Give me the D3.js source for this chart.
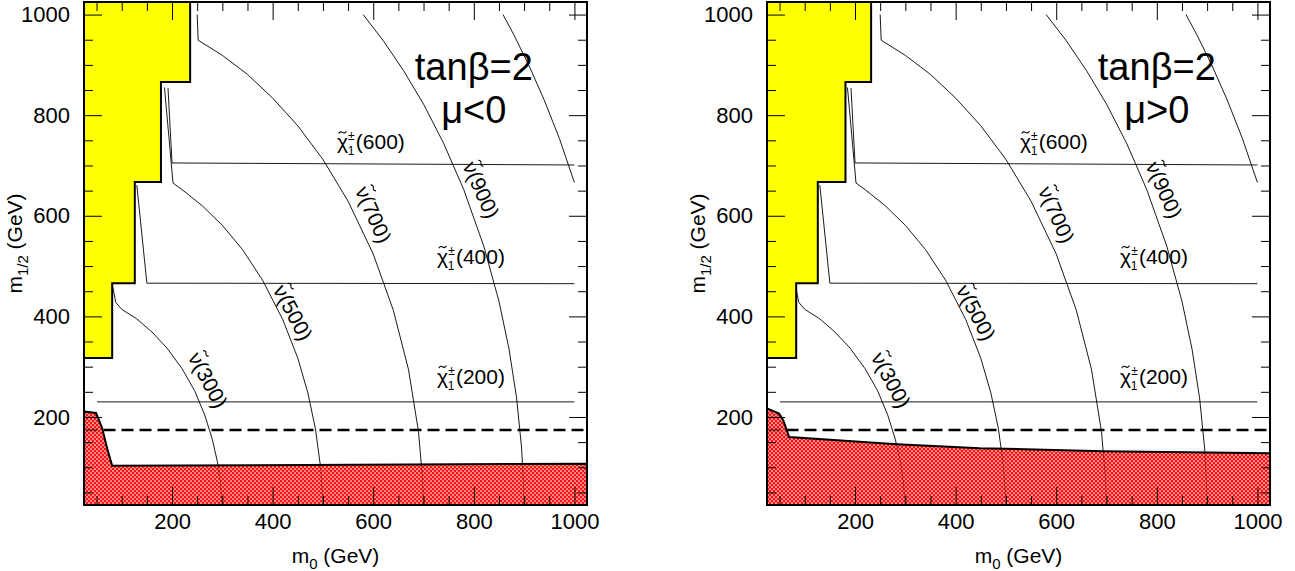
<!DOCTYPE html>
<html><head><meta charset="utf-8">
<script src="https://cdn.jsdelivr.net/npm/d3@7/dist/d3.min.js"></script>
<style>
body{margin:0;background:#fff}
text{font-family:"Liberation Sans",Arial,Helvetica,sans-serif;fill:#000}
</style>
</head><body>
<svg id="chart" width="1295" height="571"></svg>
<script>
// ---------------- data (m0, m1/2 in GeV) ----------------
const axisDomain = [25, 1025];
const majorTicks = [200, 400, 600, 800, 1000];
const minorTicks = [50, 100, 150, 250, 300, 350, 450, 500, 550, 650, 700, 750, 850, 900, 950];
const panelTitles = ["μ<0", "μ>0"];
const tanBetaText = "tanβ=2";

// excluded (yellow) regions
const yellowNeg = [[25,1025],[236,1025],[236,866],[178,866],[178,667],[126,667],[126,466],[81,466],[81,317],[25,317]];
const yellowPos = [[25,1025],[232,1025],[232,866],[181,866],[181,667],[126,667],[126,466],[83,466],[83,317],[25,317]];

// LEP excluded (red hatched) regions
const lepNeg = [[25,211],[49,208],[61,178],[71,138],[81,103],[1025,107],[1025,25],[25,25]];
const lepPos = [[25,217],[49,207],[57,194],[69,160],[283,146],[448,138],[693,132],[1025,128],[1025,25],[25,25]];

// dashed line level
const dashedLevel = 174;

// sneutrino mass contours
const snu300  = [[82,460],[88,428],[100,414],[130,395],[160,369],[190,337],[220,296],[245,252],[265,204],[280,156],[290,112],[296,71],[299.5,25]];
const snu500  = [[185,855],[202,665],[220,652],[260,620],[300,581],[340,533],[380,472],[420,394],[450,317],[470,248],[485,177],[495,103],[499,46],[499.7,25]];
const snu700  = [[250,1000],[252,949],[300,919],[350,881],[400,834],[450,779],[500,712],[550,629],[600,524],[640,412],[670,295],[690,171],[698,77],[699.8,25]];
const snu900  = [[580,1000],[620,948],[660,889],[700,822],[740,744],[780,652],[820,539],[850,430],[870,335],[885,238],[895,138],[899,62],[899.8,25]];
const snu1100 = [[858,1000],[880,959],[910,898],[940,830],[970,754],[1000,666]];
const sneutrinoCurves = [snu300, snu500, snu700, snu900, snu1100];

// chargino mass contours
const chi200 = [[51,230],[1000,230]];
const chi400 = [[130,661],[150,466],[1000,465]];
const chi600 = [[192,854],[200,705],[1000,701]];
const charginoCurves = [chi200, chi400, chi600];

// contour labels
const charginoLabels = [{mass:"600", m0:528, m12:732},{mass:"400", m0:727, m12:504},{mass:"200", m0:727, m12:266}];
const sneutrinoLabels = [{mass:"300", m0:271, m12:273},{mass:"500", m0:440, m12:407},{mass:"700", m0:600, m12:602},{mass:"900", m0:814, m12:651}];
const sneutrinoLabelAngles = [62, 62, 66, 66];
const tanBetaPos = {m0:800, m12:870};
const muPos = {m0:800, m12:784};

// ---------------- drawing ----------------
const svg = d3.select("#chart");
const W = 503, H = 503;
const panelOrigins = [[84,2],[767,2]];
const yellowData = [yellowNeg, yellowPos];
const lepData = [lepNeg, lepPos];
const tildePath = "M-3.8,1.2 Q-2.2,-1.6 0,0 T3.8,-1.2";

const defs = svg.append("defs");
const pat = defs.append("pattern").attr("id","hatch").attr("patternUnits","userSpaceOnUse")
  .attr("width",4).attr("height",4);
pat.append("rect").attr("width",4).attr("height",4).attr("fill","#ff1010");
pat.append("circle").attr("cx",1).attr("cy",1).attr("r",0.85).attr("fill","#fff");
pat.append("circle").attr("cx",3).attr("cy",3).attr("r",0.85).attr("fill","#fff");

panelOrigins.forEach((o, i) => {
  const g = svg.append("g").attr("transform",`translate(${o[0]},${o[1]})`);
  const x = d3.scaleLinear().domain(axisDomain).range([0, W]);
  const y = d3.scaleLinear().domain(axisDomain).range([H, 0]);
  const line = d3.line().x(d => x(d[0])).y(d => y(d[1]));

  const clipId = "clip"+i;
  defs.append("clipPath").attr("id",clipId).append("rect").attr("width",W).attr("height",H);
  const plot = g.append("g").attr("clip-path",`url(#${clipId})`);

  plot.append("rect").attr("width",W).attr("height",H).attr("fill","#fff");

  // LEP hatched region (fill)
  plot.append("path").attr("d",line(lepData[i])+"Z").attr("fill","url(#hatch)").attr("stroke","none");

  // contours
  sneutrinoCurves.forEach(c => plot.append("path").attr("d",line(c)).attr("fill","none")
    .attr("stroke","#000").attr("stroke-width",0.9));
  charginoCurves.forEach(c => plot.append("path").attr("d",line(c)).attr("fill","none")
    .attr("stroke","#000").attr("stroke-width",0.9));

  // dashed line
  plot.append("path").attr("d",line([[axisDomain[0]+3,dashedLevel],[axisDomain[1],dashedLevel]]))
    .attr("stroke","#000").attr("stroke-width",2.6).attr("stroke-dasharray","12,6").attr("fill","none");

  // LEP hatched region again over the contours (lines show through the holes), then outline
  plot.append("path").attr("d",line(lepData[i])+"Z").attr("fill","url(#hatch)").attr("fill-opacity",0.55)
    .attr("stroke","#000").attr("stroke-width",2);

  // yellow region
  plot.append("path").attr("d",line(yellowData[i])+"Z").attr("fill","#ffff00")
    .attr("stroke","#000").attr("stroke-width",2);

  // axes ticks
  const ax = (axisGen, vals, size, tr, pad) => {
    const a = g.append("g").attr("transform",tr)
      .call(axisGen.tickValues(vals).tickSize(-size).tickPadding(pad)
        .tickFormat(pad ? d3.format("d") : ""));
    a.select(".domain").remove();
    a.selectAll("line").attr("stroke","#000").attr("stroke-width",1);
    a.selectAll("text").style("font-size","22px").attr("font-family",null);
    return a;
  };
  ax(d3.axisBottom(x), majorTicks, 18, `translate(0,${H})`, 8);
  ax(d3.axisBottom(x), minorTicks, 9, `translate(0,${H})`, 0);
  ax(d3.axisTop(x), majorTicks, 18, `translate(0,0)`, 0);
  ax(d3.axisTop(x), minorTicks, 9, `translate(0,0)`, 0);
  ax(d3.axisLeft(y), majorTicks, 18, `translate(0,0)`, 14);
  ax(d3.axisLeft(y), minorTicks, 9, `translate(0,0)`, 0);
  ax(d3.axisRight(y), majorTicks, 18, `translate(${W},0)`, 0);
  ax(d3.axisRight(y), minorTicks, 9, `translate(${W},0)`, 0);

  // frame
  g.append("rect").attr("width",W).attr("height",H).attr("fill","none")
    .attr("stroke","#000").attr("stroke-width",2);

  // axis titles
  const xt = g.append("text").attr("x",W/2).attr("y",H+58).attr("text-anchor","middle").style("font-size","21px");
  xt.append("tspan").text("m");
  xt.append("tspan").attr("dy",6).style("font-size","15px").text("0");
  xt.append("tspan").attr("dy",-6).text(" (GeV)");

  const yt = g.append("text").attr("transform",`translate(-62,${H/2-10}) rotate(-90)`)
    .attr("text-anchor","middle").style("font-size","21px");
  yt.append("tspan").text("m");
  yt.append("tspan").attr("dy",6).style("font-size","15px").text("1/2");
  yt.append("tspan").attr("dy",-6).text(" (GeV)");

  // titles
  g.append("text").attr("x",x(tanBetaPos.m0)).attr("y",y(tanBetaPos.m12)).attr("text-anchor","middle")
    .style("font-size","38px").text(tanBetaText);
  g.append("text").attr("x",x(muPos.m0)).attr("y",y(muPos.m12)).attr("text-anchor","middle")
    .style("font-size","38px").text(panelTitles[i]);

  // chargino labels: χ̃±1(m)
  charginoLabels.forEach(l => {
    const lx = x(l.m0), ly = y(l.m12);
    const t = g.append("text").attr("x",lx).attr("y",ly).style("font-size","21px");
    t.append("tspan").text("χ");
    t.append("tspan").attr("dx",0).attr("dy",-9).style("font-size","12px").text("±");
    t.append("tspan").attr("dx",-7).attr("dy",15).style("font-size","12px").text("1");
    t.append("tspan").attr("dx",1.5).attr("dy",-6).text(`(${l.mass})`);
    const cw = t.node().getSubStringLength(0,1);
    g.append("path").attr("d",tildePath).attr("transform",`translate(${lx+cw/2},${ly-17})`)
      .attr("fill","none").attr("stroke","#000").attr("stroke-width",1.1);
  });

  // sneutrino labels: ν̃(m), rotated along the contour
  sneutrinoLabels.forEach((l, k) => {
    const gg = g.append("g").attr("transform",`translate(${x(l.m0)},${y(l.m12)}) rotate(${sneutrinoLabelAngles[k]})`);
    const t = gg.append("text").attr("y",7).style("font-size","21px").text(`ν(${l.mass})`);
    const len = t.node().getComputedTextLength();
    t.attr("x",-len/2);
    const nw = t.node().getSubStringLength(0,1);
    gg.append("path").attr("d",tildePath).attr("transform",`translate(${-len/2+nw/2},-11)`)
      .attr("fill","none").attr("stroke","#000").attr("stroke-width",1.1);
  });
});
</script>
</body></html>
